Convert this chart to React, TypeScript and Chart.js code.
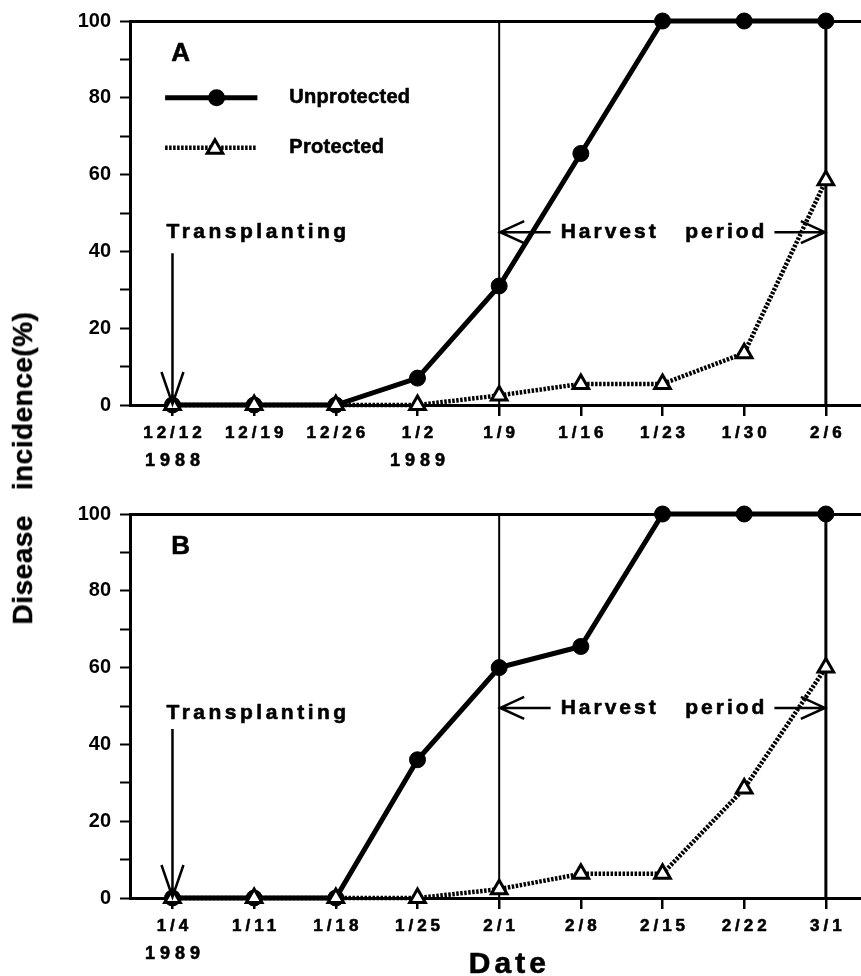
import React, { useEffect, useRef } from 'react';
import { Chart, registerables } from 'chart.js';

Chart.register(...registerables);

const FONT = '"Liberation Sans", Arial, Helvetica, sans-serif';

// ---- Data ----
const datesA = ['12/12', '12/19', '12/26', '1/2', '1/9', '1/16', '1/23', '1/30', '2/6'];
const yearsA = ['1988', '', '', '1989', '', '', '', '', ''];
const unprotectedA = [0, 0, 0, 7, 31, 65.5, 100, 100, 100];
const protectedA = [0, 0, 0, 0, 2.5, 5.5, 5.5, 13.5, 58.5];

const datesB = ['1/4', '1/11', '1/18', '1/25', '2/1', '2/8', '2/15', '2/22', '3/1'];
const yearsB = ['1989', '', '', '', '', '', '', '', ''];
const unprotectedB = [0, 0, 0, 36, 60, 65.5, 100, 100, 100];
const protectedB = [0, 0, 0, 0, 2.3, 6.3, 6.3, 28.5, 60];

const yLabels = ['0', '20', '40', '60', '80', '100'];
const seriesNames = ['Unprotected', 'Protected'];
const harvestStartIdx = 4;
const harvestEndIdx = 8;
const transplantIdx = 0;

type Panel = {
  dates: string[];
  years: string[];
  unprot: number[];
  prot: number[];
  letter: string;
  transY: number;
  transArrowTop: number;
  harvestY: number;
  height: number;
  padTop: number;
  xHeight: number;
  legend: boolean;
  dateTitle: boolean;
};

const panelA: Panel = {
  dates: datesA, years: yearsA, unprot: unprotectedA, prot: protectedA, letter: 'A',
  transY: 45, transArrowTop: 39.5, harvestY: 45,
  height: 480, padTop: 19, xHeight: 75, legend: true, dateTitle: false,
};
const panelB: Panel = {
  dates: datesB, years: yearsB, unprot: unprotectedB, prot: protectedB, letter: 'B',
  transY: 48, transArrowTop: 44, harvestY: 49.5,
  height: 496, padTop: 34, xHeight: 78, legend: false, dateTitle: true,
};

function spacedText(
  ctx: CanvasRenderingContext2D, s: string, x: number, y: number,
  font: string, spacing: number, align: 'left' | 'center' | 'right' = 'center'
): [number, number] {
  ctx.save();
  ctx.font = font;
  (ctx as any).letterSpacing = '0px';
  const base = ctx.measureText(s).width;
  const w = base + spacing * (s.length - 1);
  let x0 = x;
  if (align === 'center') x0 = x - w / 2;
  if (align === 'right') x0 = x - w;
  (ctx as any).letterSpacing = spacing + 'px';
  ctx.fillStyle = '#000';
  ctx.strokeStyle = '#000';
  ctx.lineWidth = 0.6;
  ctx.lineJoin = 'round';
  ctx.textAlign = 'left';
  ctx.textBaseline = 'middle';
  ctx.fillText(s, x0, y);
  ctx.strokeText(s, x0, y);
  ctx.restore();
  return [x0, x0 + w];
}

function arrow(ctx: CanvasRenderingContext2D, x1: number, y1: number, x2: number, y2: number, L: number, H: number, lw: number) {
  const ang = Math.atan2(y2 - y1, x2 - x1);
  ctx.save();
  ctx.strokeStyle = '#000';
  ctx.lineWidth = lw;
  ctx.beginPath();
  ctx.moveTo(x1, y1);
  ctx.lineTo(x2, y2);
  const bx = x2 - L * Math.cos(ang);
  const by = y2 - L * Math.sin(ang);
  const px = -Math.sin(ang) * H;
  const py = Math.cos(ang) * H;
  ctx.moveTo(bx + px, by + py);
  ctx.lineTo(x2, y2);
  ctx.lineTo(bx - px, by - py);
  ctx.stroke();
  ctx.restore();
}

function triangle(ctx: CanvasRenderingContext2D, x: number, y: number, r: number) {
  const t = (2 * Math.PI) / 3;
  ctx.beginPath();
  ctx.moveTo(x, y - r);
  ctx.lineTo(x + Math.sin(t) * r, y - Math.cos(t) * r);
  ctx.lineTo(x + Math.sin(2 * t) * r, y - Math.cos(2 * t) * r);
  ctx.closePath();
}

function makeChart(canvas: HTMLCanvasElement, p: Panel) {
  const decor = {
    id: 'decor',
    beforeDatasetsDraw(chart: any) {
      const ctx = chart.ctx as CanvasRenderingContext2D;
      const xs = chart.scales.x;
      const ys = chart.scales.y;
      const top = ys.getPixelForValue(100);
      const bot = ys.getPixelForValue(0);
      ctx.save();
      ctx.strokeStyle = '#000';
      ctx.lineWidth = 2;
      let x = xs.getPixelForValue(harvestStartIdx);
      ctx.beginPath(); ctx.moveTo(x, top); ctx.lineTo(x, bot); ctx.stroke();
      ctx.lineWidth = 3;
      x = xs.getPixelForValue(harvestEndIdx);
      ctx.beginPath(); ctx.moveTo(x, top); ctx.lineTo(x, bot); ctx.stroke();
      ctx.restore();
    },
    afterDraw(chart: any) {
      const ctx = chart.ctx as CanvasRenderingContext2D;
      const xs = chart.scales.x;
      const ys = chart.scales.y;
      const bot = ys.getPixelForValue(0);
      // x tick labels
      p.dates.forEach((d, i) => {
        const px = xs.getPixelForValue(i);
        spacedText(ctx, d, px, bot + 28, `bold 17px ${FONT}`, 4);
        if (p.years[i]) spacedText(ctx, p.years[i], px, bot + 56, `bold 18px ${FONT}`, 5);
      });
      // panel letter
      spacedText(ctx, p.letter, xs.getPixelForValue(0.1), ys.getPixelForValue(91.5), `bold 26px ${FONT}`, 0);
      // Transplanting
      const tx = xs.getPixelForValue(transplantIdx);
      spacedText(ctx, 'Transplanting', tx - 6, ys.getPixelForValue(p.transY), `bold 21px ${FONT}`, 3.5, 'left');
      arrow(ctx, tx, ys.getPixelForValue(p.transArrowTop), tx, bot - 1, 32, 11, 2.5);
      // Harvest period
      const hx1 = xs.getPixelForValue(harvestStartIdx);
      const hx2 = xs.getPixelForValue(harvestEndIdx);
      const hy = ys.getPixelForValue(p.harvestY);
      const [l, r] = spacedText(ctx, 'Harvest   period', (hx1 + hx2) / 2, hy, `bold 21px ${FONT}`, 3);
      arrow(ctx, l - 10, hy, hx1 + 1, hy, 24, 11, 2.5);
      arrow(ctx, r + 10, hy, hx2 - 1, hy, 24, 11, 2.5);
      // legend
      if (p.legend) {
        const lx1 = xs.getPixelForValue(-0.09);
        const lx2 = xs.getPixelForValue(1.04);
        const ly1 = ys.getPixelForValue(80);
        const ly2 = ys.getPixelForValue(67);
        ctx.save();
        ctx.strokeStyle = '#000';
        ctx.lineWidth = 5;
        ctx.beginPath(); ctx.moveTo(lx1, ly1); ctx.lineTo(lx2, ly1); ctx.stroke();
        ctx.fillStyle = '#000';
        ctx.beginPath(); ctx.arc(xs.getPixelForValue(0.54), ly1, 8.5, 0, Math.PI * 2); ctx.fill();
        ctx.lineWidth = 4.5;
        ctx.setLineDash([2.5, 1.5]);
        ctx.beginPath(); ctx.moveTo(lx1, ly2); ctx.lineTo(xs.getPixelForValue(1.03), ly2); ctx.stroke();
        ctx.setLineDash([]);
        ctx.lineWidth = 3;
        ctx.fillStyle = '#fff';
        triangle(ctx, xs.getPixelForValue(0.52), ly2 + 1, 9);
        ctx.fill(); ctx.stroke();
        ctx.restore();
        const tx2 = xs.getPixelForValue(1.43);
        spacedText(ctx, seriesNames[0], tx2, ly1, `bold 20px ${FONT}`, 0.3, 'left');
        spacedText(ctx, seriesNames[1], tx2, ly2, `bold 20px ${FONT}`, 0.3, 'left');
      }
      if (p.dateTitle) {
        spacedText(ctx, 'Date', xs.getPixelForValue(4.1), bot + 67, `bold 30px ${FONT}`, 4);
      }
    },
  };

  const toPts = (arr: number[]) => arr.map((v, i) => ({ x: i, y: v }));

  return new Chart(canvas, {
    type: 'line',
    data: {
      datasets: [
        {
          label: seriesNames[1],
          data: toPts(p.prot),
          borderColor: '#000',
          borderWidth: 4.5,
          borderDash: [2.5, 1.5],
          pointStyle: 'triangle',
          pointRadius: 9,
          pointBackgroundColor: '#fff',
          pointBorderColor: '#000',
          pointBorderWidth: 3,
          tension: 0,
          clip: false as any,
          order: 0,
        },
        {
          label: seriesNames[0],
          data: toPts(p.unprot),
          borderColor: '#000',
          borderWidth: 5,
          pointStyle: 'circle',
          pointRadius: 8,
          pointBackgroundColor: '#000',
          pointBorderColor: '#000',
          pointBorderWidth: 1,
          tension: 0,
          clip: false as any,
          order: 1,
        },
      ],
    },
    options: {
      responsive: false,
      animation: false,
      events: [],
      layout: { autoPadding: false, padding: { top: p.padTop, right: 0, left: 0, bottom: 0 } },
      plugins: { legend: { display: false }, tooltip: { enabled: false } },
      scales: {
        x: {
          type: 'linear',
          min: -0.52,
          max: 8.43,
          afterBuildTicks: (s: any) => { s.ticks = p.dates.map((_, i) => ({ value: i })); },
          afterFit: (s: any) => { s.height = p.xHeight; },
          ticks: { display: false },
          grid: { drawOnChartArea: false, drawTicks: true, tickLength: 11, color: '#000', lineWidth: 2.5 },
          border: { display: true, color: '#000', width: 3 },
        },
        y: {
          type: 'linear',
          min: 0,
          max: 100,
          afterBuildTicks: (s: any) => {
            const t: any[] = [];
            for (let v = 0; v <= 100; v += 10) t.push({ value: v });
            s.ticks = t;
          },
          afterFit: (s: any) => { s.width = 130; },
          ticks: {
            callback: (v: any) => (v % 20 === 0 ? yLabels[v / 20] : ''),
            color: '#000',
            font: { family: FONT, size: 20, weight: 'bold' },
            padding: 9,
            autoSkip: false,
          },
          grid: {
            drawOnChartArea: true,
            drawTicks: true,
            tickLength: 10,
            color: (c: any) => (c.tick && c.tick.value === 100 ? '#000' : 'rgba(0,0,0,0)'),
            lineWidth: (c: any) => (c.tick && c.tick.value === 100 ? 3 : 1),
            tickColor: '#000',
            tickWidth: 2,
          },
          border: { display: true, color: '#000', width: 3 },
        },
      },
    },
    plugins: [decor],
  } as any);
}

function PanelChart({ p, top }: { p: Panel; top: number }) {
  const ref = useRef<HTMLCanvasElement>(null);
  useEffect(() => {
    if (!ref.current) return;
    const c = makeChart(ref.current, p);
    return () => c.destroy();
  }, [p]);
  return (
    <canvas
      ref={ref}
      width={861}
      height={p.height}
      style={{ position: 'absolute', left: 0, top, width: 861, height: p.height, display: 'block' }}
    />
  );
}

export default function App() {
  return (
    <div style={{ position: 'fixed', left: 0, top: 0, width: 861, height: 976, background: '#fff', overflow: 'hidden' }}>
      <PanelChart p={panelA} top={0} />
      <PanelChart p={panelB} top={480} />
      <div
        style={{
          position: 'absolute',
          left: 23,
          top: 468,
          transform: 'translate(-50%, -50%) rotate(-90deg)',
          font: `bold 28px ${FONT}`,
          letterSpacing: '0.5px',
          whiteSpace: 'pre',
          color: '#000',
          lineHeight: '28px',
          WebkitTextStroke: '0.4px #000',
        }}
      >
        {'Disease   incidence(%)'}
      </div>
    </div>
  );
}
